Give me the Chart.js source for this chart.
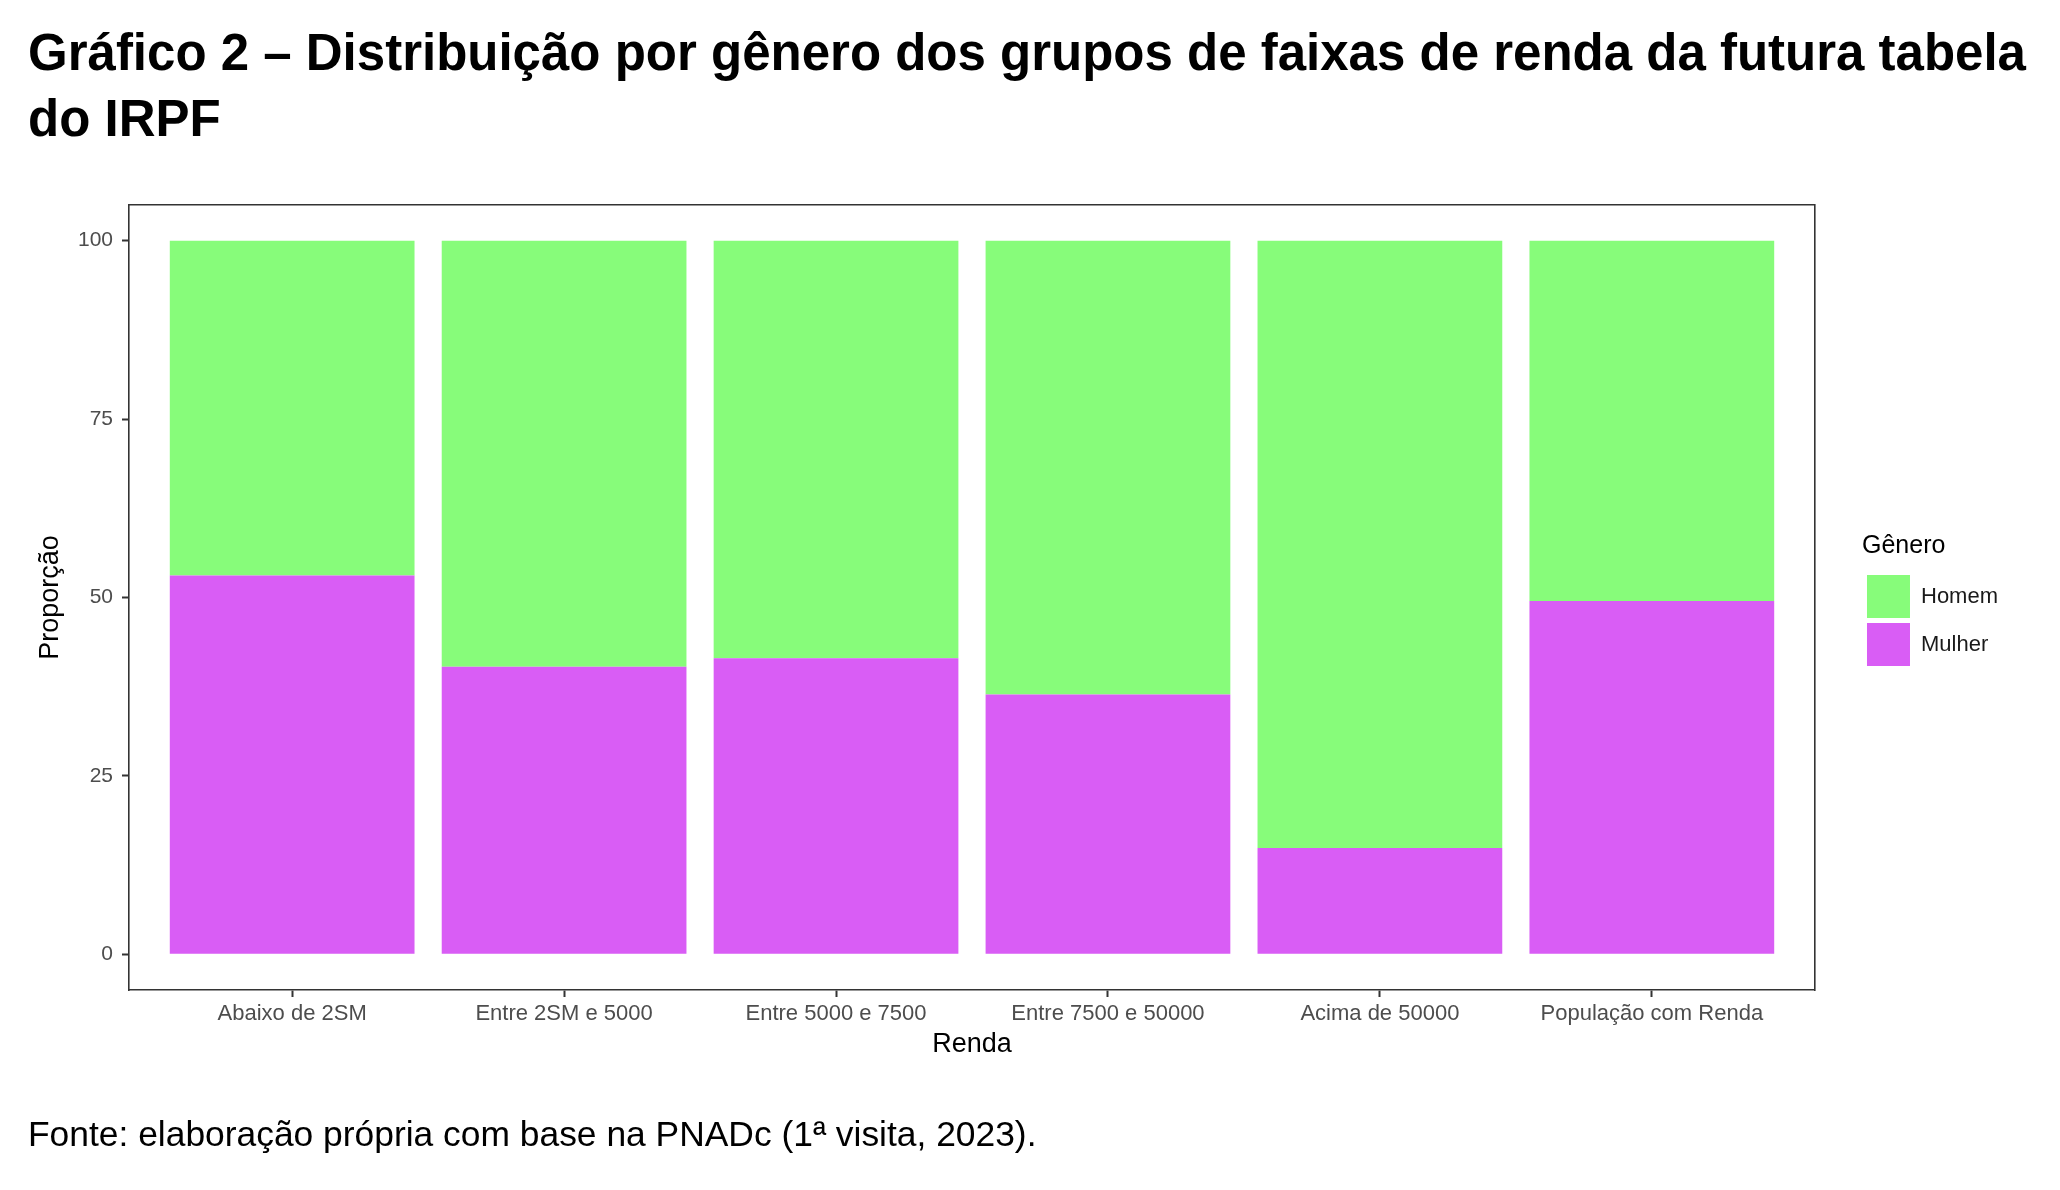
<!DOCTYPE html>
<html lang="pt-BR">
<head>
    <meta charset="UTF-8">
    <title>Gráfico 2 – Distribuição por gênero</title>
    <script src="https://cdn.jsdelivr.net/npm/chart.js@4"></script>
    <style>
        html, body { margin: 0; padding: 0; background: #fff; }
        body { width: 2060px; height: 1190px; position: relative; overflow: hidden; font-family: "Liberation Sans", Arial, sans-serif; }
        #chart { position: absolute; left: 0; top: 0; }
        .titulo { position: absolute; left: 28px; top: 20px; font-size: 51px; font-weight: bold; line-height: 66px; white-space: nowrap; color: #000; }
        .fonte { position: absolute; left: 28px; top: 1116px; font-size: 35.4px; line-height: 36px; white-space: nowrap; color: #000; }
    </style>
</head>
<body>
    <canvas id="chart" width="2060" height="1190"></canvas>
    <div class="titulo">Gráfico 2 – Distribuição por gênero dos grupos de faixas de renda da futura tabela<br>do IRPF</div>
    <div class="fonte">Fonte: elaboração própria com base na PNADc (1ª visita, 2023).</div>

    <script>
        // faixas de renda (eixo x)
        const categorias = ['Abaixo de 2SM', 'Entre 2SM e 5000', 'Entre 5000 e 7500', 'Entre 7500 e 50000', 'Acima de 50000', 'População com Renda'];
        // proporção (%)
        const mulher = [53.1, 40.3, 41.5, 36.4, 14.9, 49.5];
        const homem = [46.9, 59.7, 58.5, 63.6, 85.1, 50.5];
        const yTicks = [0, 25, 50, 75, 100];

        const corHomem = '#87FC7A';
        const corMulher = '#D95DF5';
        const cinzaEixo = '#333333';
        const cinzaTexto = '#4D4D4D';
        const fonte = '"Liberation Sans", Arial, sans-serif';

        function pontos(valores) {
            return categorias.map((c, i) => ({ x: i + 1, y: valores[i] }));
        }

        // dummy axes on top/right only to close the panel border
        const bordaSo = {
            display: true,
            ticks: { display: false },
            grid: { drawOnChartArea: false, drawTicks: false },
            border: { display: true, color: cinzaEixo, width: 1.6 }
        };

        new Chart(document.getElementById('chart').getContext('2d'), {
            type: 'bar',
            data: {
                datasets: [
                    { label: 'Mulher', data: pontos(mulher), backgroundColor: corMulher, borderWidth: 0 },
                    { label: 'Homem', data: pontos(homem), backgroundColor: corHomem, borderWidth: 0 }
                ]
            },
            options: {
                responsive: false,
                animation: false,
                devicePixelRatio: 1,
                layout: { padding: { top: 205, left: 0, right: 52, bottom: 120 } },
                datasets: { bar: { categoryPercentage: 1, barPercentage: 0.9 } },
                plugins: {
                    tooltip: { enabled: false },
                    legend: {
                        position: 'right',
                        fullSize: false,
                        align: 'center',
                        reverse: true,
                        title: {
                            display: true,
                            text: 'Gênero',
                            position: 'start',
                            color: '#000',
                            font: { family: fonte, size: 25 },
                            padding: { top: 9.5, bottom: 6.5 }
                        },
                        labels: {
                            boxWidth: 43,
                            boxHeight: 43,
                            padding: 5,
                            color: '#1a1a1a',
                            font: { family: fonte, size: 22 }
                        }
                    }
                },
                scales: {
                    x: {
                        type: 'linear',
                        stacked: true,
                        min: 0.4,
                        max: 6.6,
                        offset: false,
                        afterBuildTicks: s => { s.ticks = categorias.map((c, i) => ({ value: i + 1 })); },
                        afterFit: s => { s.height = 80; },
                        ticks: {
                            autoSkip: false,
                            maxRotation: 0,
                            padding: 4,
                            color: cinzaTexto,
                            font: { family: fonte, size: 22 },
                            callback: v => categorias[v - 1]
                        },
                        grid: { offset: false, drawOnChartArea: false, tickLength: 7, tickWidth: 2, tickColor: cinzaEixo },
                        border: { display: true, color: cinzaEixo, width: 1.6 },
                        title: { display: true, text: 'Renda', color: '#000', font: { family: fonte, size: 27 }, padding: { top: 0, bottom: 8.8 } }
                    },
                    y: {
                        stacked: true,
                        min: -5,
                        max: 105,
                        afterBuildTicks: s => { s.ticks = yTicks.map(v => ({ value: v })); },
                        afterFit: s => { s.width = 129; },
                        ticks: { padding: 9, color: cinzaTexto, font: { family: fonte, size: 21 } },
                        grid: { drawOnChartArea: false, tickLength: 7, tickWidth: 2, tickColor: cinzaEixo },
                        border: { display: true, color: cinzaEixo, width: 1.6 },
                        title: { display: true, text: 'Proporção', color: '#000', font: { family: fonte, size: 27 }, padding: { top: 34, bottom: 0 } }
                    },
                    x2: Object.assign({ type: 'linear', position: 'top', afterFit: s => { s.height = 0; } }, bordaSo),
                    y2: Object.assign({ type: 'linear', position: 'right', afterFit: s => { s.width = 47; } }, bordaSo)
                }
            }
        });
    </script>
</body>
</html>
